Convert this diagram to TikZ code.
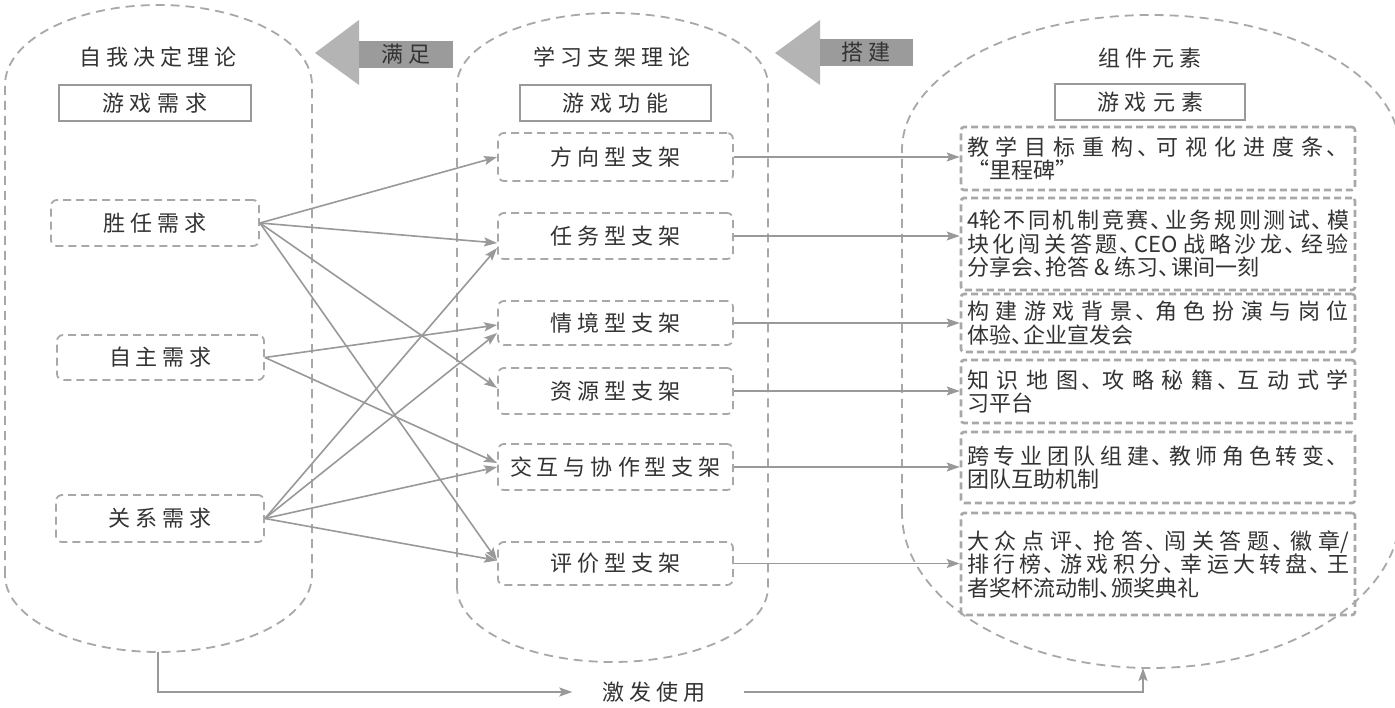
\documentclass[tikz,border=0pt]{standalone}
\usepackage{fontspec}
\setmainfont{Noto Sans CJK SC}
\usetikzlibrary{arrows.meta,calc}
\newdimen\cjkgap
\cjkgap=0pt\relax
\XeTeXinterchartokenstate=1\relax
\newXeTeXintercharclass\CJKcls
\newXeTeXintercharclass\PUNCcls
\newcount\cjkc
\cjkc="4E00\relax
\loop\ifnum\cjkc<"A000\relax \XeTeXcharclass\cjkc=\CJKcls\relax \advance\cjkc by 1\relax \repeat
\XeTeXcharclass"3001=\PUNCcls\relax
\XeTeXinterchartoks\CJKcls\CJKcls={\hskip\cjkgap plus 0.6em\relax}
\XeTeXinterchartoks\CJKcls\PUNCcls={\hskip0pt plus 0.3em\relax}
\XeTeXinterchartoks\PUNCcls\CJKcls={\hskip-0.42em plus 0.6em\relax}
\XeTeXinterchartoks\PUNCcls 0={\hskip-0.42em plus 0.3em\relax}
\newcommand\gapset[1]{\cjkgap=#1\relax}
\definecolor{ln}{HTML}{999999}
\definecolor{dsh}{HTML}{A8A8A8}
\definecolor{txt}{HTML}{333333}
\definecolor{shaft}{HTML}{9B9B9B}
\definecolor{headc}{HTML}{B4B4B4}
\begin{document}
\begin{tikzpicture}[x=1pt,y=-1pt,
  cont/.style={draw=dsh, line width=1.8pt, dash pattern=on 9pt off 6pt},
  lbl/.style={font=\fontsize{22}{26}\selectfont, execute at begin node={\gapset{5pt}}, text=txt, inner sep=0pt},
  solidbox/.style={draw=ln, line width=2pt, minimum height=36pt, font=\fontsize{22}{26}\selectfont, execute at begin node={\gapset{6pt}}, text=txt},
  needbox/.style={draw=dsh, line width=1.8pt, dash pattern=on 8pt off 5pt, rounded corners=6pt, minimum height=46pt, font=\fontsize{22}{26}\selectfont, execute at begin node={\gapset{5pt}}, text=txt},
  elem/.style={draw=dsh, line width=2.6pt, dash pattern=on 7pt off 4pt, rounded corners=3pt, text width=382pt, inner xsep=6pt, inner ysep=4pt, align=justify, font=\fontsize{22}{23.5}\selectfont, execute at begin node={\gapset{0pt}\tolerance=9999\relax\hbadness=10000\relax}, text=txt},
  conn/.style={draw=ln, line width=1.6pt, -{Stealth[length=13pt,width=9pt,inset=2.5pt]}}]
\useasboundingbox (0,0) rectangle (1395,708);
\clip (0,0) rectangle (1395,708);
\fill[white] (0,0) rectangle (1395,708);
% containers
\draw[cont] (5,575) -- (5,85) arc[start angle=180,end angle=0,x radius=153.5pt,y radius=80pt] -- (312,575) arc[start angle=0,end angle=-180,x radius=153.5pt,y radius=77pt] -- cycle;
\draw[cont] (457,587) -- (457,85) arc[start angle=180,end angle=0,x radius=155.5pt,y radius=72pt] -- (768,587) arc[start angle=0,end angle=-180,x radius=155.5pt,y radius=75pt] -- cycle;
\draw[cont] (902,513) -- (902,150) arc[start angle=180,end angle=0,x radius=249pt,y radius=135pt] -- (1400,513) arc[start angle=0,end angle=-180,x radius=249pt,y radius=155pt] -- cycle;
% block arrows
\fill[headc] (315,53) -- (359,20) -- (359,85) -- cycle;
\fill[shaft] (359,41) rectangle (453,68);
\node[lbl] (mz) at (406,54) {满足};
\fill[headc] (775,53) -- (820,20) -- (820,85) -- cycle;
\fill[shaft] (820,39) rectangle (913,66);
\node[lbl] (dj) at (866,52) {搭建};
% headers
\node[lbl] (h1) at (158,57) {自我决定理论};
\node[lbl] (h2) at (612,57) {学习支架理论};
\node[lbl] (h3) at (1150,58) {组件元素};
\node[solidbox, minimum width=192pt] (b1) at (155,103) {游戏需求};
\node[solidbox, minimum width=191pt] (b2) at (615.5,103) {游戏功能};
\node[solidbox, minimum width=190pt] (b3) at (1150,102.5) {游戏元素};
% needs
\node[needbox, minimum width=208pt] (sr) at (155,223) {胜任需求};
\node[needbox, minimum width=207pt, minimum height=45pt] (zz) at (160.5,357.5) {自主需求};
\node[needbox, minimum width=208pt, minimum height=47pt] (gx) at (160,518.5) {关系需求};
% scaffolds
\node[needbox, minimum width=235pt, minimum height=48pt] (fx) at (615.5,157) {方向型支架};
\node[needbox, minimum width=235pt] (rw) at (615.5,236) {任务型支架};
\node[needbox, minimum width=235pt, minimum height=44pt] (qj) at (615.5,323) {情境型支架};
\node[needbox, minimum width=235pt] (zy) at (615.5,391) {资源型支架};
\node[needbox, minimum width=235pt] (jh) at (615.5,467) {交互与协作型支架};
\node[needbox, minimum width=235pt, minimum height=43pt] (pj) at (615.5,563.5) {评价型支架};
% elements
\node[elem, minimum height=63pt] (e1) at (1158,158.5) {教学目标重构、可视化进度条、\linebreak “里程碑”};
\node[elem, minimum height=92pt] (e2) at (1158,244) {4轮不同机制竞赛、业务规则测试、模\linebreak 块化闯关答题、CEO 战略沙龙、经验\linebreak 分享会、抢答 \& 练习、课间一刻};
\node[elem, minimum height=58pt] (e3) at (1158,323) {构建游戏背景、角色扮演与岗位\linebreak 体验、企业宣发会};
\node[elem, minimum height=63pt] (e4) at (1158,391.5) {知识地图、攻略秘籍、互动式学\linebreak 习平台};
\node[elem, minimum height=71pt] (e5) at (1158,467.5) {跨专业团队组建、教师角色转变、\linebreak 团队互助机制};
\node[elem, minimum height=102pt] (e6) at (1158,564) {大众点评、抢答、闯关答题、徽章/\linebreak 排行榜、游戏积分、幸运大转盘、王\linebreak 者奖杯流动制、颁奖典礼};
% needs -> scaffolds
\draw[conn] (sr.east) -- (fx.west);
\draw[conn] (sr.east) -- ([yshift=-7pt]rw.west);
\draw[conn] (sr.east) -- ([yshift=3pt]zy.west);
\draw[conn] (sr.east) -- ([yshift=3pt]pj.west);
\draw[conn] (zz.east) -- ([yshift=-2pt]qj.west);
\draw[conn] (zz.east) -- ([yshift=4pt]jh.west);
\draw[conn] (gx.east) -- ([yshift=-12pt]rw.west);
\draw[conn] (gx.east) -- ([yshift=-10pt]qj.west);
\draw[conn] (gx.east) -- (jh.west);
\draw[conn] (gx.east) -- ([yshift=3pt]pj.west);
% scaffolds -> elements
\draw[conn] (fx.east) -- (fx.east -| e1.west);
\draw[conn] (rw.east) -- (rw.east -| e2.west);
\draw[conn] (qj.east) -- (qj.east -| e3.west);
\draw[conn] (zy.east) -- (zy.east -| e4.west);
\draw[conn] (jh.east) -- (jh.east -| e5.west);
\draw[conn] (pj.east) -- (pj.east -| e6.west);
% bottom
\coordinate (lb) at (158,652);
\coordinate (rb) at (1143,668);
\node[lbl] (jf) at (654,692) {激发使用};
\draw[conn] (lb) |- ([xshift=-30pt]jf.west);
\draw[conn] ([xshift=38pt]jf.east) -| (rb);
\end{tikzpicture}
\end{document}
